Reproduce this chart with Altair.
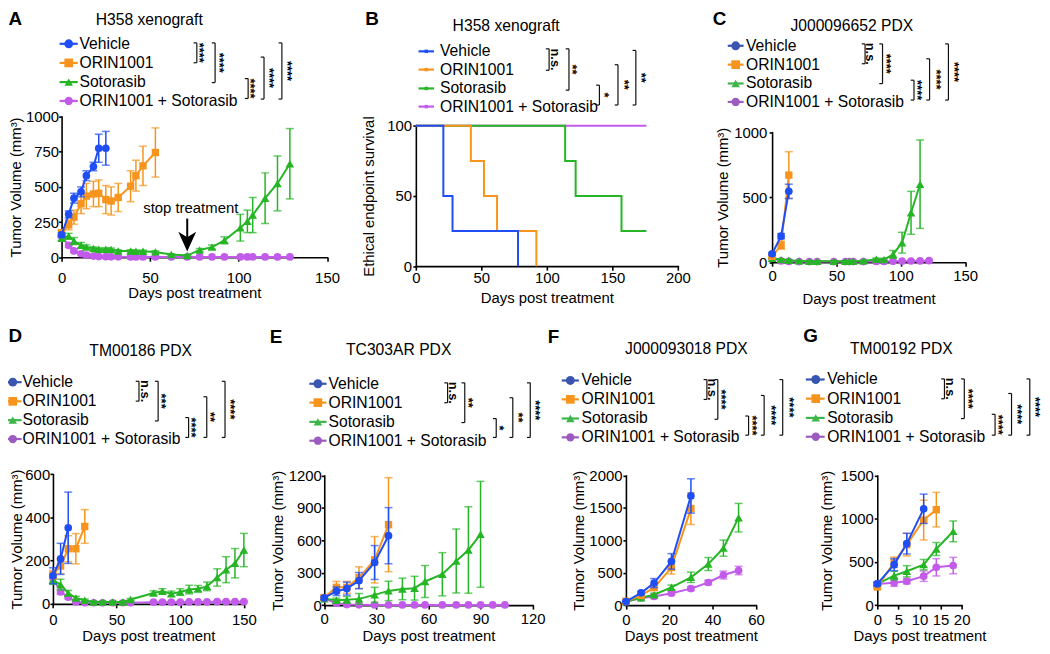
import altair as alt
import pandas as pd

W, H = 1034, 638
FONT = "Liberation Sans"

GROUPS = ["Vehicle", "ORIN1001", "Sotorasib", "ORIN1001 + Sotorasib"]
DRAW_ORDER = ["ORIN1001 + Sotorasib", "Sotorasib", "ORIN1001", "Vehicle"]

PANEL_TITLES = {"A": "H358 xenograft", "B": "H358 xenograft", "C": "J000096652 PDX",
                "D": "TM00186 PDX", "E": "TC303AR PDX", "F": "J000093018 PDX", "G": "TM00192 PDX"}
SIGNIF = {
    "A": ["****", "****", "****", "****", "****"],
    "B": ["n.s.", "**", "*", "**", "**"],
    "C": ["n.s.", "****", "****", "****", "****"],
    "D": ["n.s.", "***", "****", "**", "****"],
    "E": ["n.s.", "**", "*", "**", "****"],
    "F": ["n.s.", "****", "****", "****", "****"],
    "G": ["n.s.", "****", "****", "****", "****"],
}

# ---------------- data ----------------
# A: H358 xenograft tumour volume
A_veh_days = [0, 4, 7, 11, 14, 18, 21, 25]
A_veh = [160, 305, 420, 465, 580, 645, 775, 775]
A_veh_err = [15, 25, 35, 35, 35, 30, 100, 120]
A_orin_days = [0, 4, 7, 11, 14, 18, 21, 25, 28, 32, 39, 42, 46, 53]
A_orin = [175, 230, 285, 380, 435, 450, 455, 410, 400, 425, 505, 580, 650, 745]
A_orin_err = [15, 35, 50, 70, 90, 90, 95, 100, 100, 100, 110, 110, 140, 175]
A_soto_days = [0, 4, 7, 11, 14, 18, 21, 25, 28, 32, 39, 42, 46, 53, 62, 71, 78, 85, 92, 101, 105, 108, 115, 122, 129]
A_soto = [135, 150, 115, 85, 73, 62, 57, 57, 55, 45, 45, 43, 42, 38, 20, 12, 52, 72, 120, 210, 255, 300, 420, 525, 665]
A_soto_err = [15, 20, 25, 20, 15, 12, 10, 10, 10, 8, 8, 8, 8, 8, 5, 4, 10, 15, 25, 95, 80, 125, 180, 195, 250]
A_combo_days = [0, 4, 7, 11, 14, 18, 21, 25, 28, 32, 39, 42, 46, 53, 62, 71, 78, 85, 92, 101, 105, 108, 115, 122, 129]
A_combo = [150, 85, 45, 25, 15, 8, 5, 4, 3, 3, 2, 2, 2, 2, 2, 2, 2, 2, 2, 2, 2, 2, 2, 2, 2]
A_combo_err = [10, 15, 10, 8, 5, 3, 2, 2, 2, 2, 1, 1, 1, 1, 1, 1, 1, 1, 1, 1, 1, 1, 1, 1, 1]

# B: H358 survival (%)
B_veh_days = [0, 21, 28, 78]
B_veh_surv = [100, 50, 25, 0]
B_orin_days = [0, 42, 52, 62, 92]
B_orin_surv = [100, 75, 50, 25, 0]
B_soto_days = [0, 114, 122, 157, 176]
B_soto_surv = [100, 75, 50, 25, 25]
B_combo_days = [0, 176]
B_combo_surv = [100, 100]

# C: J000096652 PDX
C_veh_days = [0, 7, 13]
C_veh = [65, 200, 545]
C_veh_err = [10, 20, 55]
C_orin_days = [0, 7, 13]
C_orin = [45, 130, 670]
C_orin_err = [10, 30, 180]
C_soto_days = [0, 7, 13, 21, 29, 35, 48, 57, 60, 63, 71, 81, 87, 94, 101, 108, 115]
C_soto = [30, 20, 15, 10, 8, 8, 8, 8, 8, 8, 10, 22, 20, 60, 150, 380, 600]
C_soto_err = [5, 5, 5, 3, 3, 3, 3, 3, 3, 3, 5, 10, 10, 30, 80, 165, 340]
C_combo_days = [0, 7, 13, 21, 29, 35, 48, 57, 60, 63, 71, 81, 87, 94, 101, 108, 115, 122]
C_combo = [30, 10, 6, 5, 5, 5, 5, 5, 5, 5, 5, 6, 6, 7, 8, 9, 10, 12]
C_combo_err = [5, 3, 2, 2, 2, 2, 2, 2, 2, 2, 2, 2, 2, 2, 3, 3, 3, 4]

# D: TM00186 PDX
D_veh_days = [0, 6, 12]
D_veh = [130, 208, 352]
D_veh_err = [37, 72, 165]
D_orin_days = [0, 6, 12, 18, 25]
D_orin = [135, 175, 255, 255, 358]
D_orin_err = [20, 35, 60, 70, 78]
D_soto_days = [0, 6, 12, 18, 25, 32, 39, 47, 55, 61, 79, 86, 93, 100, 107, 114, 121, 129, 136, 143, 150]
D_soto = [110, 89, 50, 27, 17, 9, 9, 9, 9, 20, 50, 58, 47, 55, 66, 70, 81, 122, 158, 188, 249]
D_soto_err = [20, 25, 12, 8, 5, 4, 4, 4, 4, 5, 10, 12, 12, 15, 20, 15, 20, 40, 60, 68, 77]
D_combo_days = [0, 6, 12, 18, 25, 32, 39, 47, 55, 61, 79, 86, 93, 100, 107, 114, 121, 129, 136, 143, 150]
D_combo = [120, 55, 31, 9, 5, 5, 5, 5, 5, 5, 8, 8, 8, 8, 9, 9, 9, 10, 10, 10, 10]
D_combo_err = [20, 10, 8, 3, 2, 2, 2, 2, 2, 2, 3, 3, 3, 3, 3, 3, 3, 3, 3, 3, 3]

# E: TC303AR PDX
E_veh_days = [0, 7, 13, 20, 29, 37]
E_veh = [67, 129, 153, 227, 395, 643]
E_veh_err = [15, 40, 60, 75, 157, 260]
E_orin_days = [0, 7, 13, 20, 29, 37]
E_orin = [70, 165, 165, 255, 420, 745]
E_orin_err = [25, 55, 55, 100, 215, 435]
E_soto_days = [0, 7, 13, 20, 29, 37, 45, 52, 58, 68, 76, 83, 90]
E_soto = [60, 45, 50, 58, 95, 132, 150, 157, 219, 286, 409, 511, 656]
E_soto_err = [15, 20, 30, 50, 70, 90, 100, 110, 148, 200, 296, 400, 490]
E_combo_days = [0, 7, 13, 20, 29, 37, 45, 52, 58, 68, 76, 83, 90, 97, 104]
E_combo = [60, 18, 5, 3, 2, 2, 2, 2, 2, 2, 2, 2, 2, 2, 2]
E_combo_err = [10, 5, 2, 1, 1, 1, 1, 1, 1, 1, 1, 1, 1, 1, 1]

# F: J000093018 PDX
F_veh_days = [0, 7, 13, 21, 30]
F_veh = [55, 190, 340, 675, 1685]
F_veh_err = [10, 25, 70, 120, 265]
F_orin_days = [0, 7, 13, 21, 30]
F_orin = [60, 150, 270, 580, 1490]
F_orin_err = [15, 25, 40, 100, 245]
F_soto_days = [0, 7, 13, 21, 30, 38, 45, 52]
F_soto = [55, 115, 160, 275, 430, 635, 880, 1350]
F_soto_err = [10, 15, 25, 35, 80, 100, 125, 220]
F_combo_days = [0, 7, 13, 21, 30, 38, 45, 52]
F_combo = [50, 110, 135, 185, 255, 350, 465, 535]
F_combo_err = [10, 15, 20, 25, 30, 35, 60, 65]

# G: TM00192 PDX
G_veh_days = [0, 4, 7, 11]
G_veh = [246, 469, 712, 1115]
G_veh_err = [20, 70, 120, 170]
G_orin_days = [0, 4, 7, 11, 14]
G_orin = [210, 496, 700, 985, 1105]
G_orin_err = [20, 60, 130, 230, 200]
G_soto_days = [0, 4, 7, 11, 14, 18]
G_soto = [246, 342, 392, 469, 650, 854]
G_soto_err = [20, 50, 65, 60, 75, 120]
G_combo_days = [0, 4, 7, 11, 14, 18]
G_combo = [246, 258, 277, 335, 438, 458]
G_combo_err = [20, 40, 30, 60, 100, 95]

STOP_DAY = 71

SERIES = {
    "A": {"Vehicle": (A_veh_days, A_veh, A_veh_err), "ORIN1001": (A_orin_days, A_orin, A_orin_err),
          "Sotorasib": (A_soto_days, A_soto, A_soto_err), "ORIN1001 + Sotorasib": (A_combo_days, A_combo, A_combo_err)},
    "C": {"Vehicle": (C_veh_days, C_veh, C_veh_err), "ORIN1001": (C_orin_days, C_orin, C_orin_err),
          "Sotorasib": (C_soto_days, C_soto, C_soto_err), "ORIN1001 + Sotorasib": (C_combo_days, C_combo, C_combo_err)},
    "D": {"Vehicle": (D_veh_days, D_veh, D_veh_err), "ORIN1001": (D_orin_days, D_orin, D_orin_err),
          "Sotorasib": (D_soto_days, D_soto, D_soto_err), "ORIN1001 + Sotorasib": (D_combo_days, D_combo, D_combo_err)},
    "E": {"Vehicle": (E_veh_days, E_veh, E_veh_err), "ORIN1001": (E_orin_days, E_orin, E_orin_err),
          "Sotorasib": (E_soto_days, E_soto, E_soto_err), "ORIN1001 + Sotorasib": (E_combo_days, E_combo, E_combo_err)},
    "F": {"Vehicle": (F_veh_days, F_veh, F_veh_err), "ORIN1001": (F_orin_days, F_orin, F_orin_err),
          "Sotorasib": (F_soto_days, F_soto, F_soto_err), "ORIN1001 + Sotorasib": (F_combo_days, F_combo, F_combo_err)},
    "G": {"Vehicle": (G_veh_days, G_veh, G_veh_err), "ORIN1001": (G_orin_days, G_orin, G_orin_err),
          "Sotorasib": (G_soto_days, G_soto, G_soto_err), "ORIN1001 + Sotorasib": (G_combo_days, G_combo, G_combo_err)},
}
SURV = {"Vehicle": (B_veh_days, B_veh_surv), "ORIN1001": (B_orin_days, B_orin_surv),
        "Sotorasib": (B_soto_days, B_soto_surv), "ORIN1001 + Sotorasib": (B_combo_days, B_combo_surv)}

# ---------------- styles & layout (image pixel coordinates) ----------------
COL = {"Vehicle": "#1F4EF5", "ORIN1001": "#F7941D", "Sotorasib": "#25B525", "ORIN1001 + Sotorasib": "#C25BEA"}
COL_MUTED = {"Vehicle": "#3A55B0", "ORIN1001": "#F7941D", "Sotorasib": "#3DB54A", "ORIN1001 + Sotorasib": "#9B5BBF"}
SHAPE = {"Vehicle": "circle", "ORIN1001": "square", "Sotorasib": "triangle-up", "ORIN1001 + Sotorasib": "circle"}
SIZE = {"Vehicle": 60, "ORIN1001": 55, "Sotorasib": 75, "ORIN1001 + Sotorasib": 60}

TV = "Tumor Volume (mm³)"
PANEL_LAYOUT = {
    "A": dict(x0=62, x1=329.5, y0=256.7, y1=115, xmax=150, ymax=1000, xt=[0, 50, 100, 150],
              yt=[0, 250, 500, 750, 1000], xlp=9.5, xtp=0.5, ylp=0, ytp=2, ytitle=TV),
    "B": dict(x0=419, x1=683, y0=265.7, y1=124.3, xmax=200, ymax=100, xt=[0, 50, 100, 150, 200],
              yt=[0, 50, 100], xlp=0.5, xtp=5, ylp=1.3, ytp=10, ytitle="Ethical endpoint survival"),
    "C": dict(x0=778, x1=972.5, y0=261.7, y1=130.7, xmax=150, ymax=1000, xt=[0, 50, 100, 150],
              yt=[0, 500, 1000], xlp=2.8, xtp=8, ylp=2.3, ytp=3, ytitle=TV),
    "D": dict(x0=53.3, x1=245.7, y0=606, y1=475.3, xmax=150, ymax=600, xt=[0, 50, 100, 150],
              yt=[0, 200, 400, 600], xlp=5.2, xtp=0.8, ylp=0.3, ytp=0, ytitle=TV),
    "E": dict(x0=326.7, x1=536.7, y0=607.3, y1=476.7, xmax=120, ymax=1200, xt=[0, 30, 60, 90, 120],
              yt=[0, 300, 600, 900, 1200], xlp=2.2, xtp=2.5, ylp=0, ytp=2.5, ytitle=TV),
    "F": dict(x0=630.7, x1=761.7, y0=607.3, y1=476.7, xmax=60, ymax=2000, xt=[0, 20, 40, 60],
              yt=[0, 500, 1000, 1500, 2000], xlp=3.8, xtp=1, ylp=1, ytp=2, ytitle=TV),
    "G": dict(x0=884, x1=969, y0=607.3, y1=476.7, xmax=20, ymax=1500, xt=[0, 5, 10, 15, 20],
              yt=[0, 500, 1000, 1500], xlp=3.8, xtp=1, ylp=1, ytp=6, ytitle=TV),
}
LEGEND_LAYOUT = {
    "A": dict(line=(60, 78.3), sym=69.2, text=80, rows=[40.7, 60.0, 79.3, 98.3], pal="bright"),
    "B": dict(line=(421.7, 437.3), sym=429.5, text=443.3, rows=[48.3, 66.7, 85.7, 104.0], pal="bright"),
    "C": dict(line=(733.3, 749.3), sym=741.3, text=751.7, rows=[42.7, 61.7, 80.7, 99.3], pal="muted"),
    "D": dict(line=(4, 21.7), sym=12.8, text=22.7, rows=[381.7, 401.0, 420.0, 439.0], pal="muted"),
    "E": dict(line=(311.7, 329), sym=320.3, text=331, rows=[383.3, 402.3, 421.7, 440.7], pal="muted"),
    "F": dict(line=(566, 583.3), sym=574.7, text=586, rows=[380.0, 399.0, 418.3, 437.3], pal="muted"),
    "G": dict(line=(812, 831), sym=822, text=833.5, rows=[379.0, 398.3, 417.7, 436.7], pal="muted"),
}
BRACKETS = {
    "A": [(198.3, 40.7, 60.7, 203.8), (216.7, 40.7, 80.7, 223.8), (250.0, 76.7, 96.7, 255.3),
          (266.0, 55.0, 97.3, 273.8), (284.0, 40.7, 97.3, 292.0)],
    "B": [(553.3, 46.7, 68.3, 559.3), (573.3, 46.7, 88.3, 580.0), (604.0, 83.3, 103.3, 611.7),
          (622.7, 62.7, 103.3, 631.7), (640.7, 48.3, 103.3, 649.3)],
    "C": [(871.7, 41.7, 61.7, 876.7), (889.3, 41.7, 81.7, 896.0), (921.0, 78.3, 98.3, 927.3),
          (936.7, 56.7, 98.3, 946.7), (955.7, 41.7, 98.3, 965.0)],
    "D": [(140.0, 381.7, 401.7, 145.7), (159.3, 381.7, 421.7, 165.0), (190.0, 418.3, 438.3, 196.0),
          (208.3, 397.3, 438.3, 215.0), (226.7, 381.7, 438.3, 235.0)],
    "E": [(451.0, 383.3, 403.3, 456.7), (468.3, 383.3, 423.3, 475.0), (500.0, 419.3, 438.3, 505.7),
          (516.7, 398.3, 438.3, 525.0), (534.3, 383.3, 438.3, 542.3)],
    "F": [(712.3, 380.0, 400.0, 717.7), (723.3, 380.0, 420.0, 730.0), (754.3, 416.7, 436.0, 760.7),
          (770.0, 396.0, 436.0, 780.0), (788.7, 380.0, 436.0, 798.3)],
    "G": [(951.7, 379.3, 399.3, 957.7), (971.7, 379.3, 419.3, 978.3), (1002.7, 415.0, 436.0, 1009.0),
          (1019.3, 394.0, 436.0, 1027.7), (1037.7, 379.3, 436.0, 1046.7)],
}
TITLE_POS = {"A": (150.3, 16.7), "B": (510, 23.3), "C": (858.3, 23.3), "D": (141.7, 350),
             "E": (401.7, 349.3), "F": (691.7, 348.3), "G": (908.3, 348.3)}
LETTER_POS = {"A": (8.5, 15.5), "B": (368, 15.5), "C": (718.3, 15.5), "D": (8.5, 335),
              "E": (271.7, 335.8), "F": (552, 335.8), "G": (809.3, 335.5)}


def V(v):
    return round(v - 8, 2)


layers = []
SCALES = {}
for p, L in PANEL_LAYOUT.items():
    xs = alt.Scale(domain=[0, L["xmax"]], range=[V(L["x0"]), V(L["x1"])], nice=False, zero=False)
    ys = alt.Scale(domain=[0, L["ymax"]], range=[V(L["y0"]), V(L["y1"])], nice=False, zero=False)
    SCALES[p] = (xs, ys)
    ax = alt.Axis(orient="bottom", offset=V(L["y0"]) - H, values=L["xt"], format="d",
                  title="Days post treatment", tickSize=4, labelPadding=L["xlp"], titlePadding=L["xtp"])
    ay = alt.Axis(orient="left", offset=-V(L["x0"]), values=L["yt"], format="d",
                  title=L["ytitle"], tickSize=3, labelPadding=L["ylp"], titlePadding=L["ytp"])
    first = True
    for g in DRAW_ORDER:
        c = COL[g]
        if p == "B":
            days, surv = SURV[g]
            df = pd.DataFrame({"day": days, "pct": surv})
            layers.append(alt.Chart(df).mark_line(interpolate="step-after", color=c, strokeWidth=2).encode(
                x=alt.X("day:Q", scale=xs, axis=ax if first else None),
                y=alt.Y("pct:Q", scale=ys, axis=ay if first else None)))
            first = False
            continue
        days, mean, err = SERIES[p][g]
        df = pd.DataFrame({"day": days, "mean": mean,
                           "lo": [max(0, m - e) for m, e in zip(mean, err)],
                           "hi": [m + e for m, e in zip(mean, err)]})
        X = alt.X("day:Q", scale=xs, axis=None)
        layers.append(alt.Chart(df).mark_rule(color=c, strokeWidth=1.5).encode(
            x=alt.X("day:Q", scale=xs, axis=ax if first else None),
            y=alt.Y("lo:Q", scale=ys, axis=ay if first else None), y2="hi:Q"))
        first = False
        layers.append(alt.Chart(df).transform_fold(["lo", "hi"], as_=["k", "v"]).mark_tick(
            color=c, orient="horizontal", size=8, thickness=1.5).encode(
            x=X, y=alt.Y("v:Q", scale=ys, axis=None)))
        layers.append(alt.Chart(df).mark_line(color=c, strokeWidth=2).encode(
            x=X, y=alt.Y("mean:Q", scale=ys, axis=None)))
        layers.append(alt.Chart(df).mark_point(shape=SHAPE[g], filled=True, opacity=1, size=SIZE[g], color=c).encode(
            x=X, y=alt.Y("mean:Q", scale=ys, axis=None)))

# stop treatment arrow (panel A)
xsA, ysA = SCALES["A"]
stop_df = pd.DataFrame({"day": [STOP_DAY], "top": [275], "bot": [125], "head": [111],
                        "tday": [73], "ty": [353], "label": ["stop treatment"]})
layers.append(alt.Chart(stop_df).mark_rule(color="black", strokeWidth=2).encode(
    x=alt.X("day:Q", scale=xsA, axis=None), y=alt.Y("top:Q", scale=ysA, axis=None), y2="bot:Q"))
layers.append(alt.Chart(stop_df).mark_point(shape="M0,1.1L-1,-1.1L0,-0.5L1,-1.1Z", filled=True, opacity=1,
                                            size=324, color="black").encode(
    x=alt.X("day:Q", scale=xsA, axis=None), y=alt.Y("head:Q", scale=ysA, axis=None)))
layers.append(alt.Chart(stop_df).mark_text(font=FONT, fontSize=15, color="black", align="center",
                                           baseline="middle").encode(
    x=alt.X("tday:Q", scale=xsA, axis=None), y=alt.Y("ty:Q", scale=ysA, axis=None), text="label:N"))

# legends
leg_rows = []
for p, L in LEGEND_LAYOUT.items():
    for i, g in enumerate(GROUPS):
        leg_rows.append({"panel": p, "group": g, "label": g, "x0": V(L["line"][0]), "x1": V(L["line"][1]),
                         "xs": V(L["sym"]), "xt": V(L["text"]), "y": V(L["rows"][i]) + 0.9,
                         "ckey": L["pal"] + "|" + g})
leg = pd.DataFrame(leg_rows)
ckeys = ["bright|" + g for g in GROUPS] + ["muted|" + g for g in GROUPS]
crange = [COL[g] for g in GROUPS] + [COL_MUTED[g] for g in GROUPS]
CENC = alt.Color("ckey:N", scale=alt.Scale(domain=ckeys, range=crange), legend=None)
LY = alt.Y("y:Q", scale=None)
layers.append(alt.Chart(leg).mark_rule(strokeWidth=2.2).encode(
    x=alt.X("x0:Q", scale=None), x2="x1:Q", y=LY, color=CENC))
layers.append(alt.Chart(leg).transform_filter("datum.panel != 'B'").mark_point(filled=True, opacity=1).encode(
    x=alt.X("xs:Q", scale=None), y=LY, color=CENC,
    shape=alt.Shape("group:N", scale=alt.Scale(domain=GROUPS, range=[SHAPE[g] for g in GROUPS]), legend=None),
    size=alt.Size("group:N", scale=alt.Scale(domain=GROUPS, range=[80, 70, 95, 80]), legend=None)))
layers.append(alt.Chart(leg).transform_filter("datum.panel == 'B'").mark_point(
    filled=True, opacity=1, shape="square", size=12).encode(
    x=alt.X("xs:Q", scale=None), y=LY, color=CENC))
layers.append(alt.Chart(leg).mark_text(font=FONT, fontSize=15.8, color="black", align="left",
                                       baseline="middle").encode(
    x=alt.X("xt:Q", scale=None), y=LY, text="label:N"))

# significance brackets
br_rows = []
for p, lst in BRACKETS.items():
    for (xv, yt, yb, lx), lab in zip(lst, SIGNIF[p]):
        star = lab != "n.s."
        br_rows.append({"x": V(xv), "xc": V(xv - 3.3), "yt": V(yt), "yb": V(yb),
                        "lx": V(lx - (3.3 if star else 0)), "ly": V((yt + yb) / 2), "label": lab})
br = pd.DataFrame(br_rows)
layers.append(alt.Chart(br).mark_rule(color="#111111", strokeWidth=1.2).encode(
    x=alt.X("x:Q", scale=None), y=alt.Y("yt:Q", scale=None), y2="yb:Q"))
layers.append(alt.Chart(br).mark_rule(color="#111111", strokeWidth=1.2).encode(
    x=alt.X("xc:Q", scale=None), x2="x:Q", y=alt.Y("yt:Q", scale=None)))
layers.append(alt.Chart(br).mark_rule(color="#111111", strokeWidth=1.2).encode(
    x=alt.X("xc:Q", scale=None), x2="x:Q", y=alt.Y("yb:Q", scale=None)))
layers.append(alt.Chart(br).mark_text(font=FONT, fontSize=13, fontWeight="bold", angle=90, color="black",
                                      opacity=0.99, align="center", baseline="middle").encode(
    x=alt.X("lx:Q", scale=None), y=alt.Y("ly:Q", scale=None), text="label:N"))

# panel titles and letters
tdf = pd.DataFrame([{"x": V(TITLE_POS[p][0]), "y": V(TITLE_POS[p][1]) + 0.9, "label": PANEL_TITLES[p]}
                    for p in PANEL_TITLES])
layers.append(alt.Chart(tdf).mark_text(font=FONT, fontSize=15.8, color="black", align="center",
                                       baseline="middle").encode(
    x=alt.X("x:Q", scale=None), y=alt.Y("y:Q", scale=None), text="label:N"))
ldf = pd.DataFrame([{"x": V(LETTER_POS[p][0]), "y": V(LETTER_POS[p][1]) + 1.1, "label": p} for p in LETTER_POS])
layers.append(alt.Chart(ldf).mark_text(font=FONT, fontSize=19, fontWeight="bold", color="black",
                                       align="left", baseline="middle").encode(
    x=alt.X("x:Q", scale=None), y=alt.Y("y:Q", scale=None), text="label:N"))

chart = alt.layer(*layers).resolve_scale(
    x="independent", y="independent"
).properties(
    width=W, height=H, background="white",
    autosize=alt.AutoSizeParams(type="none"),
    padding={"left": 0, "top": 0, "right": 8, "bottom": 0},
).configure_view(stroke=None).configure_axis(
    domainColor="black", domainWidth=1.6, domainCap="square", tickColor="black", tickWidth=1.6,
    labelColor="black", titleColor="black", labelFont=FONT, titleFont=FONT,
    labelFontSize=15, titleFontSize=15, titleFontWeight="normal", grid=False,
    labelFlush=False, labelOverlap=False,
)

chart.save("out.html", embed_options={"renderer": "svg", "actions": False})
